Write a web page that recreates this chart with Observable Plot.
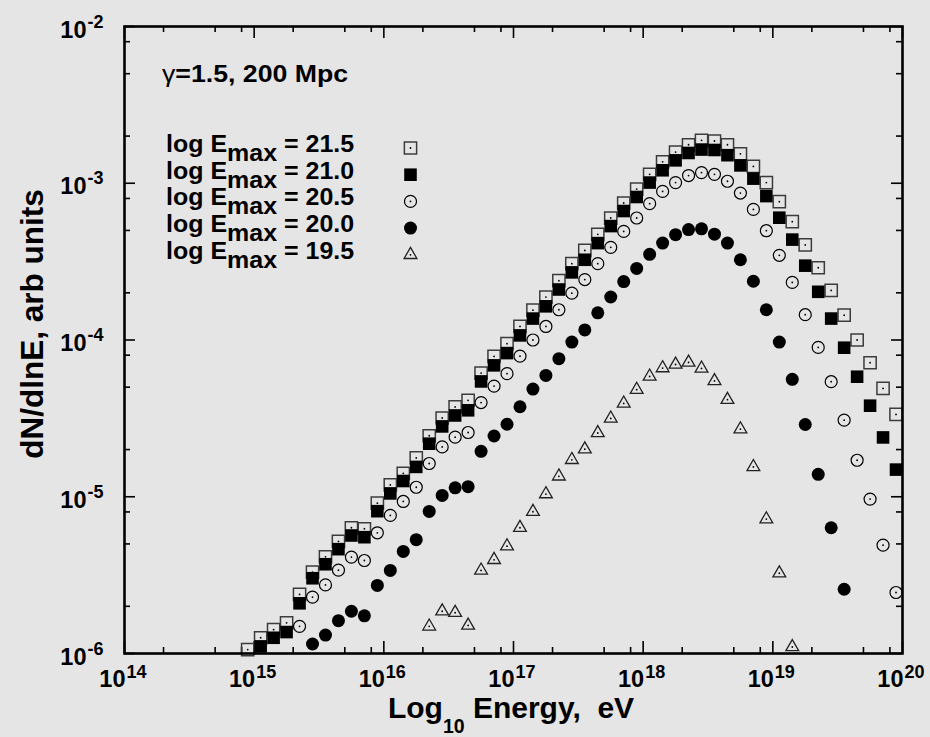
<!DOCTYPE html>
<html>
<head>
<meta charset="utf-8">
<script src="https://cdn.jsdelivr.net/npm/d3@7"></script>
<script src="https://cdn.jsdelivr.net/npm/@observablehq/plot@0.6"></script>
<style>
  html, body { margin: 0; padding: 0; background: #e5e5e5; }
  #chart svg { display: block; }
</style>
</head>
<body>
<div id="chart"></div>
<script>
// ---------------- data ----------------
const logE = [14.95, 15.05, 15.15, 15.25, 15.35, 15.45, 15.55, 15.65, 15.75, 15.85,
              15.95, 16.05, 16.15, 16.25, 16.35, 16.45, 16.55, 16.65, 16.75, 16.85,
              16.95, 17.05, 17.15, 17.25, 17.35, 17.45, 17.55, 17.65, 17.75, 17.85,
              17.95, 18.05, 18.15, 18.25, 18.35, 18.45, 18.55, 18.65, 18.75, 18.85,
              18.95, 19.05, 19.15, 19.25, 19.35, 19.45, 19.55, 19.65, 19.75, 19.85, 19.95];

const s215 = [1.06e-6, 1.26e-6, 1.42e-6, 1.57e-6, 2.38e-6, 3.30e-6, 4.14e-6, 5.19e-6, 6.34e-6, 6.25e-6,
              9.10e-6, 1.19e-5, 1.41e-5, 1.77e-5, 2.45e-5, 3.18e-5, 3.74e-5, 4.12e-5, 6.15e-5, 7.86e-5,
              9.47e-5, 1.22e-4, 1.55e-4, 1.88e-4, 2.39e-4, 3.07e-4, 3.73e-4, 4.72e-4, 6.00e-4, 7.48e-4,
              9.18e-4, 1.14e-3, 1.37e-3, 1.58e-3, 1.76e-3, 1.88e-3, 1.86e-3, 1.76e-3, 1.54e-3, 1.28e-3,
              1.01e-3, 7.63e-4, 5.69e-4, 4.04e-4, 2.89e-4, 2.07e-4, 1.44e-4, 1.00e-4, 7.16e-5, 4.91e-5, 3.35e-5];

const s210 = [null, 1.11e-6, 1.26e-6, 1.37e-6, 2.09e-6, 3.02e-6, 3.71e-6, 4.63e-6, 5.66e-6, 5.52e-6,
              8.09e-6, 1.05e-5, 1.26e-5, 1.55e-5, 2.18e-5, 2.81e-5, 3.30e-5, 3.56e-5, 5.44e-5, 6.89e-5,
              8.25e-5, 1.07e-4, 1.37e-4, 1.64e-4, 2.10e-4, 2.70e-4, 3.25e-4, 4.15e-4, 5.33e-4, 6.65e-4,
              8.17e-4, 1.01e-3, 1.21e-3, 1.40e-3, 1.56e-3, 1.64e-3, 1.63e-3, 1.51e-3, 1.30e-3, 1.07e-3,
              8.28e-4, 6.03e-4, 4.37e-4, 2.98e-4, 2.03e-4, 1.37e-4, 8.93e-5, 5.83e-5, 3.81e-5, 2.39e-5, 1.49e-5];

const s205 = [null, null, null, null, 1.49e-6, 2.29e-6, 2.74e-6, 3.40e-6, 4.12e-6, 3.92e-6,
              5.89e-6, 7.60e-6, 9.33e-6, 1.15e-5, 1.63e-5, 2.08e-5, 2.40e-5, 2.57e-5, 3.99e-5, 5.08e-5,
              6.10e-5, 7.89e-5, 1.00e-4, 1.22e-4, 1.56e-4, 1.99e-4, 2.43e-4, 3.07e-4, 3.90e-4, 4.93e-4,
              6.00e-4, 7.41e-4, 8.87e-4, 1.01e-3, 1.12e-3, 1.17e-3, 1.14e-3, 1.03e-3, 8.66e-4, 6.81e-4,
              4.98e-4, 3.47e-4, 2.33e-4, 1.45e-4, 8.97e-5, 5.42e-5, 3.08e-5, 1.71e-5, 9.66e-6, 4.91e-6, 2.45e-6];

const s200 = [null, null, null, null, null, 1.15e-6, 1.31e-6, 1.62e-6, 1.86e-6, 1.74e-6,
              2.72e-6, 3.39e-6, 4.48e-6, 5.32e-6, 8.06e-6, 1.02e-5, 1.14e-5, 1.16e-5, 1.95e-5, 2.44e-5,
              2.90e-5, 3.75e-5, 4.86e-5, 5.94e-5, 7.60e-5, 9.70e-5, 1.16e-4, 1.49e-4, 1.88e-4, 2.36e-4,
              2.86e-4, 3.52e-4, 4.15e-4, 4.70e-4, 5.06e-4, 5.12e-4, 4.73e-4, 4.15e-4, 3.25e-4, 2.37e-4,
              1.56e-4, 9.70e-5, 5.61e-5, 2.89e-5, 1.39e-5, 6.34e-6, 2.57e-6, null, null, null, null];

const s195 = [null, null, null, null, null, null, null, null, null, null,
              null, null, null, null, 1.49e-6, 1.86e-6, 1.82e-6, 1.51e-6, 3.39e-6, 3.96e-6,
              4.84e-6, 6.34e-6, 8.02e-6, 1.04e-5, 1.35e-5, 1.72e-5, 2.01e-5, 2.55e-5, 3.16e-5, 3.94e-5,
              4.82e-5, 5.86e-5, 6.62e-5, 6.98e-5, 7.19e-5, 6.59e-5, 5.48e-5, 4.16e-5, 2.70e-5, 1.55e-5,
              7.20e-6, 3.25e-6, 1.10e-6, null, null, null, null, null, null, null, null];

const seriesLabels = ["21.5", "21.0", "20.5", "20.0", "19.5"];
const seriesValues = [s215, s210, s205, s200, s195];

const xMajorExp = [14, 15, 16, 17, 18, 19, 20];
const yMajorExp = [-6, -5, -4, -3, -2];
const minorMult = [2, 5, 8];
const titleText = "=1.5, 200 Mpc";
const xTitle = ["Log", "10", "\u00a0Energy,\u00a0\u00a0eV"];
const yTitle = "dN/dlnE, arb units";

// ---------------- styles per series ----------------
const styles = [
  {symbol: "square",   r: 6.9, fill: "none",  stroke: "#3c3c3c", sw: 1.5, centre: true},
  {symbol: "square",   r: 7.1, fill: "black", stroke: "none",    sw: 0,   centre: false},
  {symbol: "circle",   r: 6.0, fill: "none",  stroke: "black",   sw: 1.2, centre: true},
  {symbol: "circle",   r: 6.5, fill: "black", stroke: "none",    sw: 0,   centre: false},
  {symbol: "triangle", r: 4.75, fill: "none", stroke: "#222",    sw: 1.3, centre: true}
];

const W = 930, H = 737, mL = 124, mR = 28, mT = 26, mB = 84;
const innerW = W - mL - mR, innerH = H - mT - mB;
const FONT = "'Liberation Sans', Arial, Helvetica, sans-serif";

const xMajor = xMajorExp.map(e => 10 ** e);
const yMajor = yMajorExp.map(e => 10 ** e);
const xMinor = xMajorExp.slice(0, -1).flatMap(e => minorMult.map(m => m * 10 ** e));
const yMinor = yMajorExp.slice(0, -1).flatMap(e => minorMult.map(m => m * 10 ** e));

const seriesMarks = seriesValues.flatMap((vals, i) => {
  const st = styles[i];
  const pts = logE.map((le, j) => ({E: 10 ** le, v: vals[j]})).filter(d => d.v != null);
  const m = [Plot.dot(pts, {x: "E", y: "v", symbol: st.symbol, r: st.r, fill: st.fill,
                            stroke: st.stroke, strokeWidth: st.sw})];
  if (st.centre) m.push(Plot.dot(pts, {x: "E", y: "v", r: 0.9, fill: "black"}));
  return m;
});

// legend symbols
const legendX = 410, legendY0 = 147.5, legendStep = 26.7;
const legendMarks = styles.flatMap((st, i) => {
  const opts = {frameAnchor: "top-left", dx: legendX - mL, dy: legendY0 + i * legendStep - mT};
  const m = [Plot.dot([seriesLabels[i]], {...opts, symbol: st.symbol, r: st.r, fill: st.fill,
                                           stroke: st.stroke, strokeWidth: st.sw})];
  if (st.centre) m.push(Plot.dot([seriesLabels[i]], {...opts, r: 0.9, fill: "black"}));
  return m;
});

const tickOpts = {stroke: "black", strokeWidth: 1.6};
const labelFont = {fontFamily: FONT, fontWeight: "bold", fill: "black", lineAnchor: "bottom"};

const chart = Plot.plot({
  width: W, height: H,
  marginLeft: mL, marginRight: mR, marginTop: mT, marginBottom: mB,
  style: {background: "#e5e5e5", fontFamily: FONT},
  x: {type: "log", domain: [1e14, 1e20], axis: null},
  y: {type: "log", domain: [1e-6, 1e-2], axis: null},
  marks: [
    // inward ticks on all four sides
    Plot.tickX(xMajor, {x: d => d, insetTop: innerH - 12, ...tickOpts}),
    Plot.tickX(xMajor, {x: d => d, insetBottom: innerH - 12, ...tickOpts}),
    Plot.tickX(xMinor, {x: d => d, insetTop: innerH - 6, ...tickOpts}),
    Plot.tickX(xMinor, {x: d => d, insetBottom: innerH - 6, ...tickOpts}),
    Plot.tickY(yMajor, {y: d => d, insetRight: innerW - 11, ...tickOpts}),
    Plot.tickY(yMajor, {y: d => d, insetLeft: innerW - 11, ...tickOpts}),
    Plot.tickY(yMinor, {y: d => d, insetRight: innerW - 6, ...tickOpts}),
    Plot.tickY(yMinor, {y: d => d, insetLeft: innerW - 6, ...tickOpts}),
    // tick labels  10^n
    Plot.text(xMajor, {x: d => d, text: () => "10", frameAnchor: "bottom", textAnchor: "end",
                       dx: 1, dy: 33, fontSize: 23.5, ...labelFont}),
    Plot.text(xMajorExp, {x: d => 10 ** d, text: d => String(d), frameAnchor: "bottom", textAnchor: "start",
                          dx: 2, dy: 24, fontSize: 18, ...labelFont}),
    Plot.text(yMajor, {y: d => d, text: () => "10", frameAnchor: "left", textAnchor: "end",
                       dx: -38, dy: 11, fontSize: 23.5, ...labelFont}),
    Plot.text(yMajorExp, {y: d => 10 ** d, text: d => String(d), frameAnchor: "left", textAnchor: "start",
                          dx: -37, dy: 1, fontSize: 18, ...labelFont}),
    ...seriesMarks,
    ...legendMarks,
    Plot.frame({stroke: "black", strokeWidth: 2.6})
  ]
});

document.getElementById("chart").appendChild(chart);

// ---------------- texts with sub/superscripts ----------------
const svg = d3.select(chart);
const g = svg.append("g")
  .attr("font-family", FONT).attr("font-weight", "bold").attr("fill", "black")
  .attr("text-anchor", "start");

const t = g.append("text").attr("transform", "translate(162,81.5) scale(1.09,1)").attr("font-size", 24.5);
t.append("tspan").attr("font-weight", "normal").text("\u03b3");
t.append("tspan").text(titleText);

seriesLabels.forEach((lab, i) => {
  const tx = g.append("text")
    .attr("transform", `translate(166,${151.8 + i * legendStep}) scale(1.02,1)`)
    .attr("font-size", 24.5);
  tx.append("tspan").text("log E");
  tx.append("tspan").attr("dy", 9).text("max");
  tx.append("tspan").attr("dy", -9).text("\u00a0= " + lab);
});

g.append("text")
  .attr("transform", "translate(43,324) rotate(-90)")
  .attr("text-anchor", "middle").attr("font-size", 31.5)
  .text(yTitle);

const xl = g.append("text").attr("x", 511).attr("y", 718)
  .attr("text-anchor", "middle").attr("font-size", 30);
xl.append("tspan").text(xTitle[0]);
xl.append("tspan").attr("font-size", 19.5).attr("dy", 15).text(xTitle[1]);
xl.append("tspan").attr("dy", -15).text(xTitle[2]);
</script>
</body>
</html>
